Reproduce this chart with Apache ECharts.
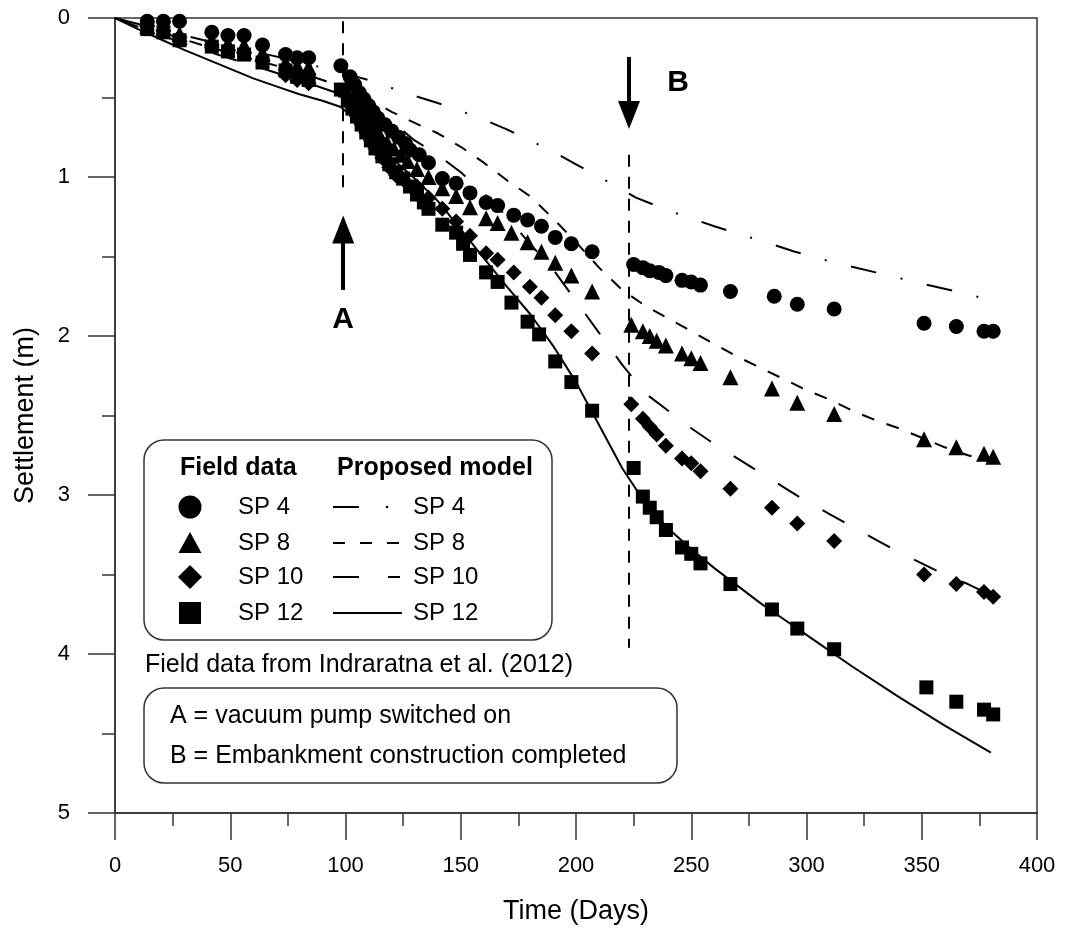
<!DOCTYPE html>
<html>
<head>
<meta charset="utf-8">
<script src="https://cdn.jsdelivr.net/npm/echarts@6/dist/echarts.min.js"></script>
<style>
html,body{margin:0;padding:0;background:#fff;}
#chart{width:1074px;height:938px;}
</style>
</head>
<body>
<div id="chart"></div>
<script>
// ---------- Field data (days, settlement in m) ----------
const sp4Days = [14,21,28,42,49,56,64,74,79,84,98,102,104,106,108,110,112,114,117,120,123,126,128,132,136,142,148,154,161,166,173,179,185,191,198,207,225,229,232,236,239,246,250,254,267,286,296,312,351,365,377,381];
const sp4Vals = [0.02,0.02,0.02,0.09,0.11,0.11,0.17,0.23,0.25,0.25,0.30,0.37,0.42,0.47,0.51,0.55,0.59,0.63,0.67,0.71,0.75,0.79,0.83,0.86,0.91,1.01,1.04,1.10,1.16,1.18,1.24,1.27,1.31,1.38,1.42,1.47,1.55,1.57,1.59,1.60,1.62,1.65,1.66,1.68,1.72,1.75,1.80,1.83,1.92,1.94,1.97,1.97];

const sp8Days = [14,21,28,42,49,56,64,74,79,84,100,103,105,107,109,111,113,115,118,121,124,127,131,136,142,148,154,161,166,172,179,185,191,198,207,224,229,232,235,239,246,250,254,267,285,296,312,351,365,377,381];
const sp8Vals = [0.05,0.06,0.10,0.14,0.16,0.17,0.22,0.28,0.30,0.31,0.45,0.50,0.54,0.58,0.62,0.66,0.70,0.74,0.78,0.82,0.86,0.90,0.95,1.00,1.07,1.12,1.19,1.26,1.29,1.35,1.41,1.47,1.54,1.62,1.72,1.93,1.97,2.00,2.03,2.06,2.11,2.14,2.17,2.26,2.33,2.42,2.49,2.65,2.70,2.74,2.76];

const sp10Days = [14,21,28,42,49,56,64,74,79,84,100,103,105,107,109,111,113,116,119,122,126,131,136,142,148,154,161,166,173,180,185,191,198,207,224,229,232,235,239,246,250,254,267,285,296,312,351,365,377,381];
const sp10Vals = [0.05,0.08,0.12,0.17,0.20,0.22,0.27,0.36,0.39,0.41,0.48,0.56,0.62,0.67,0.72,0.77,0.82,0.88,0.94,0.99,1.03,1.06,1.13,1.20,1.28,1.37,1.48,1.52,1.60,1.69,1.76,1.87,1.97,2.11,2.43,2.52,2.57,2.62,2.69,2.77,2.80,2.85,2.96,3.08,3.18,3.29,3.50,3.56,3.61,3.64];

const sp12Days = [14,21,28,42,49,56,64,74,79,84,98,101,103,105,107,109,111,113,116,119,122,125,128,131,134,136,142,148,151,154,161,166,172,179,184,191,198,207,225,229,232,235,239,246,250,254,267,285,296,312,352,365,377,381];
const sp12Vals = [0.07,0.09,0.14,0.18,0.21,0.23,0.28,0.33,0.37,0.39,0.45,0.52,0.57,0.62,0.67,0.72,0.77,0.82,0.87,0.92,0.97,1.01,1.06,1.11,1.16,1.20,1.30,1.35,1.42,1.49,1.60,1.66,1.79,1.91,1.99,2.16,2.29,2.47,2.83,3.01,3.08,3.14,3.22,3.33,3.37,3.43,3.56,3.72,3.84,3.97,4.21,4.30,4.35,4.38];

// ---------- Proposed model curves ----------
const m4Days = [0,20,40,60,80,92,100,110,120,130,140,150,160,170,180,190,200,210,220,226,240,250,260,270,280,295,310,330,350,365,380];
const m4Vals = [0,0.075,0.145,0.21,0.275,0.32,0.35,0.39,0.44,0.49,0.535,0.585,0.64,0.70,0.77,0.84,0.92,1.00,1.08,1.13,1.21,1.26,1.31,1.355,1.40,1.47,1.53,1.60,1.67,1.72,1.775];

const m8Days = [0,20,40,60,80,90,100,110,120,130,140,150,160,170,180,190,200,210,220,230,240,250,260,270,280,290,300,310,320,330,340,350,360,370,380];
const m8Vals = [0,0.09,0.18,0.26,0.34,0.39,0.44,0.51,0.59,0.66,0.725,0.81,0.91,1.02,1.12,1.26,1.41,1.57,1.71,1.81,1.89,1.97,2.05,2.13,2.20,2.27,2.34,2.40,2.47,2.53,2.58,2.64,2.70,2.75,2.79];

const m10Days = [0,20,40,60,80,90,100,110,120,130,140,150,160,170,180,190,200,210,220,230,240,250,260,270,280,290,300,310,320,330,340,350,360,370,380];
const m10Vals = [0,0.11,0.21,0.30,0.39,0.44,0.49,0.54,0.65,0.77,0.86,0.97,1.10,1.25,1.42,1.58,1.78,1.98,2.18,2.36,2.47,2.58,2.68,2.77,2.86,2.95,3.04,3.12,3.20,3.28,3.36,3.43,3.50,3.56,3.63];

const m12Days = [0,10,20,30,40,50,60,70,80,90,98,105,112,120,130,140,150,160,170,180,190,200,210,220,230,240,250,260,270,280,290,300,320,340,360,380];
const m12Vals = [0,0.07,0.135,0.20,0.26,0.32,0.38,0.43,0.48,0.52,0.56,0.65,0.75,0.88,1.01,1.15,1.33,1.51,1.69,1.86,2.06,2.29,2.56,2.83,3.05,3.21,3.34,3.46,3.57,3.68,3.78,3.88,4.08,4.27,4.45,4.62];

// ---------- Axis ticks ----------
const xTickMin = 0, xTickMax = 400, xTickStep = 50;
const yTickMin = 0, yTickMax = 5, yTickStep = 1;

// ---------- Events ----------
const eventA = {day: 99, label: 'A'};
const eventB = {day: 223, label: 'B'};

const labels = {
  x: 'Time (Days)',
  y: 'Settlement (m)',
  fieldHead: 'Field data',
  modelHead: 'Proposed model',
  names: ['SP 4','SP 8','SP 10','SP 12'],
  source: 'Field data from Indraratna et al. (2012)',
  noteA: 'A = vacuum pump switched on',
  noteB: 'B = Embankment construction completed'
};

const FONT = '"Liberation Sans", Arial, Helvetica, sans-serif';
const zip = (a, b) => a.map((d, i) => [d, b[i]]);

const chart = echarts.init(document.getElementById('chart'), null, {renderer: 'canvas'});

const markerSeries = (name, days, vals, symbol, size) => ({
  name, type: 'scatter', data: zip(days, vals), symbol, symbolSize: size,
  itemStyle: {color: '#000', opacity: 1}, z: 5, animation: false, silent: true
});
const modelSeries = (name, days, vals, dash) => ({
  name, type: 'line', data: zip(days, vals), showSymbol: false, smooth: false,
  lineStyle: {color: '#000', width: 2, type: dash}, z: 4, animation: false, silent: true
});

const m12 = modelSeries('SP 12 model', m12Days, m12Vals, 'solid');
m12.markLine = {
  silent: true, animation: false, label: {show: false},
  data: [
    [{coord: [eventA.day, 0.02], symbol: 'none', lineStyle: {type: [12, 10], width: 2, color: '#000'}},
     {coord: [eventA.day, 1.12], symbol: 'none'}],
    [{coord: [eventB.day, 0.86], symbol: 'none', lineStyle: {type: [12, 10], width: 2, color: '#000'}},
     {coord: [eventB.day, 3.96], symbol: 'none'}],
    [{coord: [eventA.day, 1.71], symbol: 'none', lineStyle: {type: 'solid', width: 4, color: '#000'}},
     {coord: [eventA.day, 1.33], symbol: 'triangle', symbolSize: [22, 28]}],
    [{coord: [eventB.day, 0.245], symbol: 'none', lineStyle: {type: 'solid', width: 4, color: '#000'}},
     {coord: [eventB.day, 0.61], symbol: 'triangle', symbolSize: [22, 28]}]
  ]
};

const axisCommon = {
  axisLine: {show: true, onZero: false, lineStyle: {color: '#333', width: 1.5}},
  axisTick: {show: true, inside: false, length: 27, lineStyle: {color: '#333', width: 1.5}},
  minorTick: {show: true, splitNumber: 2, length: 13, lineStyle: {color: '#333', width: 1.5}},
  splitLine: {show: false}, minorSplitLine: {show: false}
};

const option = {
  backgroundColor: '#fff',
  animation: false,
  textStyle: {fontFamily: FONT, color: '#000'},
  grid: {left: 115, right: 37, top: 18, bottom: 125, show: true, borderColor: '#333', borderWidth: 1.5, backgroundColor: 'transparent'},
  xAxis: Object.assign({
    type: 'value', position: 'bottom', min: xTickMin, max: xTickMax, interval: xTickStep,
    name: labels.x, nameLocation: 'middle', nameGap: 85,
    nameTextStyle: {fontSize: 27, color: '#000', fontFamily: FONT},
    axisLabel: {fontSize: 22, color: '#000', margin: 42, fontFamily: FONT}
  }, axisCommon),
  yAxis: Object.assign({
    type: 'value', position: 'left', inverse: true, min: yTickMin, max: yTickMax, interval: yTickStep,
    name: labels.y, nameLocation: 'middle', nameGap: 76, nameRotate: 90,
    nameTextStyle: {fontSize: 27, color: '#000', fontFamily: FONT},
    axisLabel: {fontSize: 22, color: '#000', margin: 45, fontFamily: FONT}
  }, axisCommon),
  series: [
    modelSeries('SP 4 model', m4Days, m4Vals, [26, 25, 2, 25]),
    modelSeries('SP 8 model', m8Days, m8Vals, [13, 13]),
    modelSeries('SP 10 model', m10Days, m10Vals, [25, 27]),
    m12,
    markerSeries('SP 4', sp4Days, sp4Vals, 'circle', 15),
    markerSeries('SP 8', sp8Days, sp8Vals, 'triangle', 16),
    markerSeries('SP 10', sp10Days, sp10Vals, 'diamond', 16),
    markerSeries('SP 12', sp12Days, sp12Vals, 'rect', 14)
  ],
  graphic: []
};

// ---------- legend & annotation graphics ----------
const g = [];
const txt = (x, y, text, size, bold, align) => ({
  type: 'text', x, y, z: 20,
  style: {text, fontSize: size, fontWeight: bold ? 'bold' : 'normal', fontFamily: FONT, fill: '#000',
          textAlign: align || 'left', textVerticalAlign: 'middle'}
});
// box 1
g.push({type: 'rect', z: 15, shape: {x: 144, y: 440, width: 408, height: 200, r: 20},
        style: {fill: '#fff', stroke: '#333', lineWidth: 1.5}});
g.push(txt(180, 468, labels.fieldHead, 25, true));
g.push(txt(337, 468, labels.modelHead, 25, true));
const rowsY = [507, 543, 577, 613];
rowsY.forEach((y, i) => {
  g.push(txt(238, y, labels.names[i], 24, false));
  g.push(txt(413, y, labels.names[i], 24, false));
});
// legend markers
g.push({type: 'circle', z: 20, shape: {cx: 190, cy: rowsY[0], r: 11.5}, style: {fill: '#000'}});
g.push({type: 'polygon', z: 20, shape: {points: [[190, rowsY[1] - 11], [201.5, rowsY[1] + 10], [178.5, rowsY[1] + 10]]}, style: {fill: '#000'}});
g.push({type: 'polygon', z: 20, shape: {points: [[190, rowsY[2] - 12], [202, rowsY[2]], [190, rowsY[2] + 12], [178, rowsY[2]]]}, style: {fill: '#000'}});
g.push({type: 'rect', z: 20, shape: {x: 179, y: rowsY[3] - 11, width: 22, height: 22}, style: {fill: '#000'}});
// legend line samples
const seg = (x1, x2, y) => ({type: 'line', z: 20, shape: {x1, y1: y, x2, y2: y}, style: {stroke: '#000', lineWidth: 2}});
g.push(seg(333, 359, rowsY[0]));
g.push({type: 'circle', z: 20, shape: {cx: 387, cy: rowsY[0], r: 1.3}, style: {fill: '#000'}});
g.push(seg(333, 345, rowsY[1])); g.push(seg(360, 372, rowsY[1])); g.push(seg(387, 399, rowsY[1]));
g.push(seg(333, 359, rowsY[2])); g.push(seg(388, 400, rowsY[2]));
g.push(seg(333, 402, rowsY[3]));
// source note
g.push(txt(145, 665, labels.source, 25, false));
// box 2
g.push({type: 'rect', z: 15, shape: {x: 144, y: 688, width: 533, height: 95, r: 20},
        style: {fill: '#fff', stroke: '#333', lineWidth: 1.5}});
g.push(txt(170, 716, labels.noteA, 25, false));
g.push(txt(170, 756, labels.noteB, 25, false));
option.graphic = g;

chart.setOption(option);

// event letters placed at their day positions
const pa = chart.convertToPixel({xAxisIndex: 0, yAxisIndex: 0}, [eventA.day, 1.90]);
const pb = chart.convertToPixel({xAxisIndex: 0, yAxisIndex: 0}, [eventB.day, 0.41]);
option.graphic.push(txt(pa[0], pa[1], eventA.label, 30, true, 'center'));
option.graphic.push(txt(pb[0] + 49, pb[1], eventB.label, 30, true, 'center'));
chart.setOption({graphic: option.graphic});
</script>
</body>
</html>
